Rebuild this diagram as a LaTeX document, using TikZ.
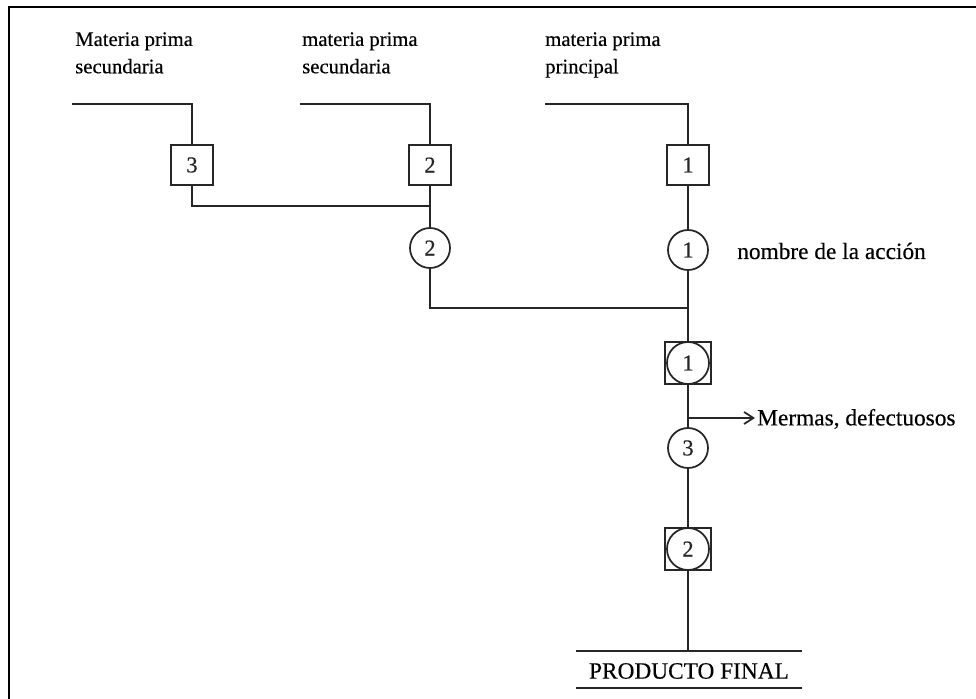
\documentclass[tikz,border=0pt]{standalone}
\usepackage{fontspec}
\setmainfont{Liberation Serif}[FakeBold=0.35]
\usetikzlibrary{arrows.meta}

\tikzset{
  wire/.style={line width=1.3pt, black!85},
  matbox/.style={draw, line width=1.3pt, black!85, minimum width=32pt, minimum height=30pt, inner sep=0pt, font=\fontsize{17}{20}\selectfont},
  actcirc/.style={draw, circle, line width=1.3pt, black!85, minimum size=30pt, inner sep=0pt, font=\fontsize{17}{20}\selectfont},
  ctlbox/.style={draw, line width=1.3pt, black!85, minimum width=34pt, minimum height=32pt, inner sep=0pt},
  ctlcirc/.style={actcirc, minimum size=31.5pt},
  toplabel/.style={anchor=north west, align=left, inner sep=0pt, font=\fontsize{15.5}{20.5}\selectfont},
  sidelabel/.style={anchor=west, inner sep=0pt, font=\fontsize{17.5}{21}\selectfont},
  frame/.style={line width=2.2pt, black}
}

\begin{document}
\begin{tikzpicture}[x=0.75pt, y=-0.75pt]
  \useasboundingbox (0,0) rectangle (976,699);
  \fill[white] (0,0) rectangle (976,699);

  % open frame: left and top edges only
  \draw[frame] (9,699) -- (9,7) -- (976,7);

  % raw material labels
  \node[toplabel] (lab3) at (75,32) {Materia prima\\secundaria};
  \node[toplabel] (lab2) at (302,32) {materia prima\\secundaria};
  \node[toplabel] (lab1) at (545,32) {materia prima\\principal};

  \coordinate (in3) at (72,104);
  \coordinate (in2) at (300,104);
  \coordinate (in1) at (545,104);

  % material boxes
  \node[matbox] (m3) at (192,165) {3};
  \node[matbox] (m2) at (430,165) {2};
  \node[matbox] (m1) at (688,165) {1};

  % operations
  \node[actcirc] (a2) at (430,248) {2};
  \node[actcirc] (a1) at (688,250) {1};
  \node[ctlbox] (k1) at (688,363) {};
  \node[ctlcirc] (c1) at (688,363) {1};
  \node[actcirc] (a3) at (688,448) {3};
  \node[ctlbox] (k2) at (688,549) {};
  \node[ctlcirc] (c2) at (688,549) {2};

  \coordinate (j32) at (430,206);
  \coordinate (j21) at (688,308);
  \coordinate (split) at (688,418);
  \coordinate (waste) at (755,418);
  \coordinate (prod) at (688,651);

  % feed lines
  \draw[wire] (in3) -| (m3.north);
  \draw[wire] (in2) -| (m2.north);
  \draw[wire] (in1) -| (m1.north);

  % joins
  \draw[wire] (m3.south) |- (j32);
  \draw[wire] (m2) -- (a2);
  \draw[wire] (a2.south) |- (j21);
  \draw[wire] (m1) -- (a1);
  \draw[wire] (a1) -- (k1);
  \draw[wire] (k1) -- (a3);
  \draw[wire] (a3) -- (k2);
  \draw[wire] (k2.south) -- (prod);
  \draw[wire, -{Straight Barb[length=7pt, width=9pt]}] (split) -- (waste);

  % side notes
  \node[sidelabel] (act) at (737,251) {nombre de la acción};
  \node[sidelabel] (mer) at (757,419) {Mermas, defectuosos};

  % final product
  \node[inner sep=0pt, font=\fontsize{17.5}{21}\selectfont] (fin) at (689,671) {PRODUCTO FINAL};
  \draw[wire] (576,651) -- (802,651);
  \draw[wire] (576,688) -- (802,688);
\end{tikzpicture}
\end{document}
